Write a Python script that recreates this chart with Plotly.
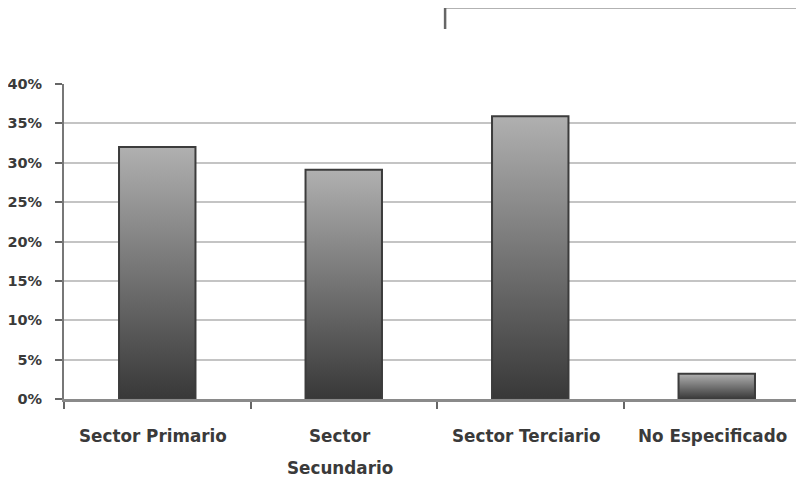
import plotly.graph_objects as go

categories = ["Sector Primario", "Sector<br>Secundario", "Sector Terciario", "No Especificado"]
values = [32.0, 29.1, 35.9, 3.2]
y_ticks = [0, 5, 10, 15, 20, 25, 30, 35, 40]
y_tick_labels = [f"{v}%" for v in y_ticks]

BAR_W = 0.41
fig = go.Figure()

for i, v in enumerate(values):
    x0, x1 = i - BAR_W / 2, i + BAR_W / 2
    fig.add_trace(go.Scatter(
        x=[x0, x0, x1, x1, x0], y=[0, v, v, 0, 0],
        mode="lines", fill="toself",
        line=dict(color="#3c3c3c", width=2),
        fillgradient=dict(type="vertical",
                          colorscale=[[0, "#383838"], [1, "#b0b0b0"]]),
        hoverinfo="skip", showlegend=False,
    ))

# category labels (lines placed under each category centre)
for i, lab in enumerate(categories):
    for j, line in enumerate(lab.split("<br>")):
        fig.add_annotation(x=i, xref="x", y=0, yref="paper",
                           text=f"<b>{line}</b>", showarrow=False,
                           yanchor="middle", yshift=-37 - 32 * j, xshift=-4,
                           font=dict(family="DejaVu Sans", size=16.8, color="#3a3a3a"))

fig.update_layout(
    width=804, height=478,
    margin=dict(l=56, r=8, t=76, b=87, autoexpand=False),
    paper_bgcolor="white", plot_bgcolor="white",
    showlegend=False,
    font=dict(family="DejaVu Sans", color="#3a3a3a"),
    xaxis=dict(range=[-0.5, -0.5 + 740 / 186.5], tickmode="array",
               tickvals=[-0.5, 0.5, 1.5, 2.5, 3.5], ticktext=["", "", "", "", ""],
               ticks="outside", ticklen=7, tickwidth=1.5, tickcolor="#666666",
               showgrid=False, zeroline=False, automargin=False,
               showline=True, linecolor="#8a8a8a", linewidth=2.5),
    yaxis=dict(range=[0, 40], tickmode="array", tickvals=y_ticks,
               ticktext=[f"<b>{t}</b>" for t in y_tick_labels],
               ticks="outside", ticklen=7, tickwidth=1.5, tickcolor="#666666",
               showgrid=True, gridcolor="#c4c4c4", gridwidth=1.5, automargin=False,
               zeroline=False, showline=True, linecolor="#777777", linewidth=2,
               tickfont=dict(family="DejaVu Sans", size=14.5, color="#3a3a3a"),
               ticklabelstandoff=10),
)

# fragment of a frame at the top of the picture
fig.add_shape(type="path", xref="paper", yref="paper",
              path="M 0.515 1.175 L 0.515 1.244 L 1.03 1.244",
              line=dict(color="#666666", width=2.5))

fig.write_html("out.html")
